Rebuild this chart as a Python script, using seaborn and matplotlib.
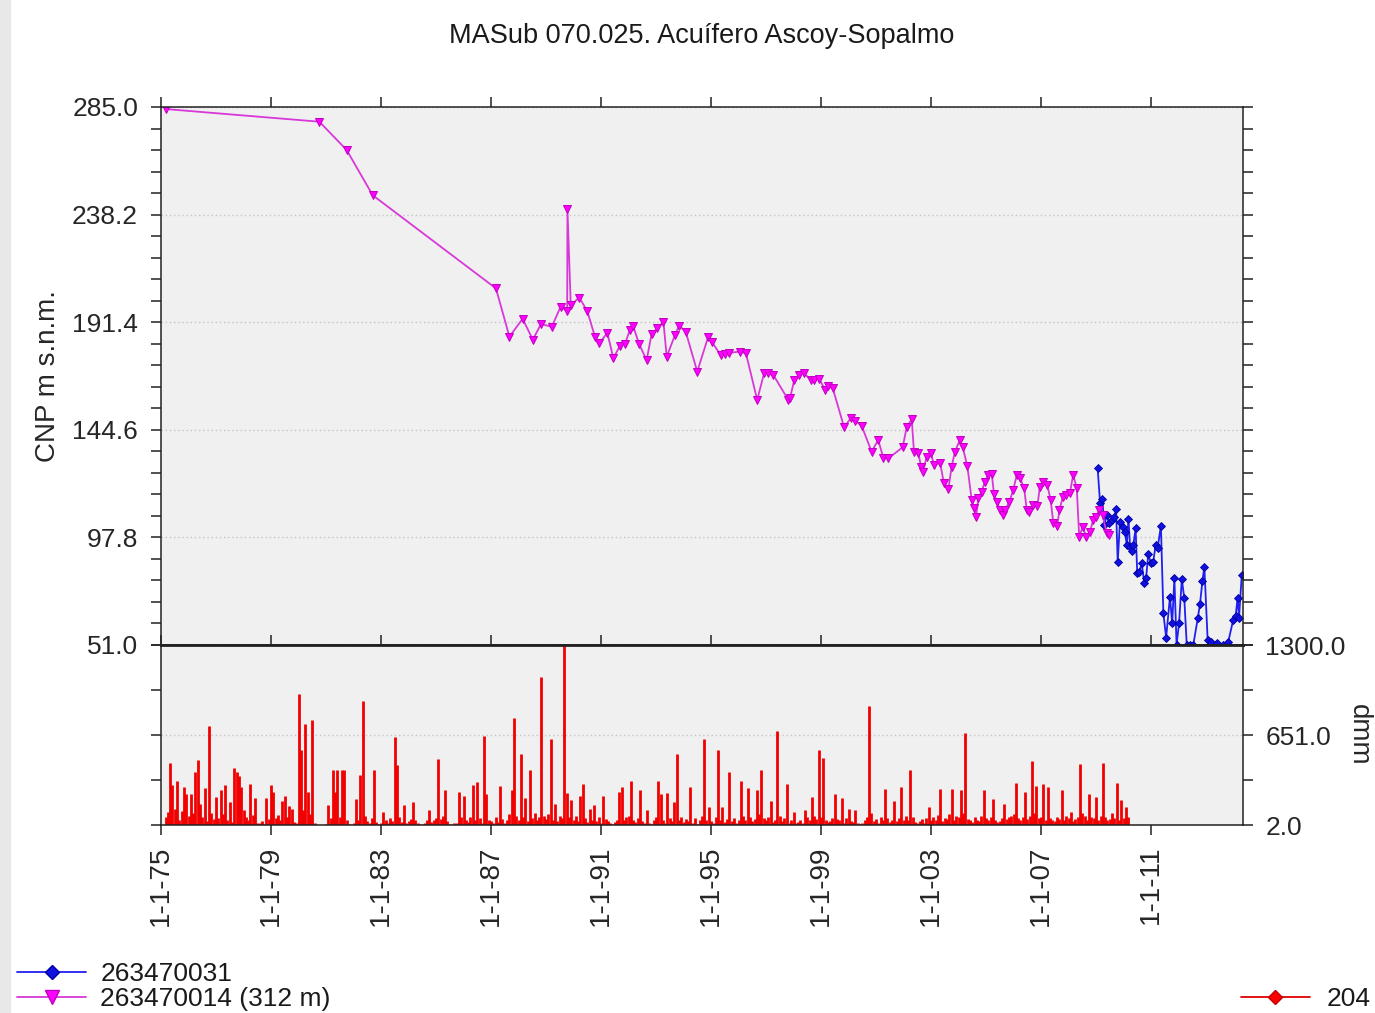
import numpy as np
import pandas as pd
import matplotlib
matplotlib.use("Agg")
import matplotlib.pyplot as plt
from matplotlib.lines import Line2D
from matplotlib.patches import Rectangle
from matplotlib.ticker import AutoMinorLocator
import seaborn as sns

# piezometro 263470014 (312 m): fecha (año decimal) y cota (m s.n.m.)
p14_year = [1975.18, 1980.76, 1981.75, 1982.70, 1987.18, 1987.67, 1988.15, 1988.52, 1988.82, 1989.21,
            1989.53, 1989.77, 1989.78, 1989.90, 1990.21, 1990.50, 1990.78, 1990.94, 1991.23, 1991.45,
            1991.69, 1991.87, 1992.05, 1992.17, 1992.39, 1992.66, 1992.84, 1993.05, 1993.27, 1993.39,
            1993.69, 1993.84, 1994.08, 1994.50, 1994.90, 1995.03, 1995.35, 1995.51, 1995.67, 1996.05,
            1996.27, 1996.68, 1996.93, 1997.08, 1997.27, 1997.81, 1997.87, 1998.03, 1998.20, 1998.38,
            1998.63, 1998.75, 1998.94, 1999.15, 1999.27, 1999.43, 1999.84, 2000.08, 2000.24, 2000.48,
            2000.84, 2001.08, 2001.27, 2001.45, 2001.97, 2002.12, 2002.30, 2002.38, 2002.54, 2002.64,
            2002.72, 2002.84, 2002.99, 2003.11, 2003.33, 2003.47, 2003.63, 2003.75, 2003.87, 2004.05,
            2004.15, 2004.32, 2004.48, 2004.56, 2004.64, 2004.72, 2004.84, 2004.96, 2005.08, 2005.21,
            2005.29, 2005.39, 2005.51, 2005.61, 2005.69, 2005.85, 2005.99, 2006.12, 2006.24, 2006.39,
            2006.48, 2006.58, 2006.72, 2006.87, 2006.96, 2007.08, 2007.23, 2007.35, 2007.45, 2007.59,
            2007.67, 2007.79, 2007.91, 2008.05, 2008.17, 2008.30, 2008.39, 2008.52, 2008.64, 2008.78,
            2008.90, 2009.00, 2009.12, 2009.24, 2009.39, 2009.48]
p14_level = [284.1, 278.6, 266.3, 246.6, 206.1, 185.1, 192.9, 183.8, 190.6, 189.4,
             198.1, 196.3, 240.6, 198.9, 202.1, 196.3, 185.1, 182.2, 186.8, 175.7,
             181.2, 181.9, 188.0, 189.7, 181.8, 174.9, 186.3, 188.7, 191.6, 176.4,
             185.8, 189.9, 187.3, 169.9, 185.1, 182.9, 177.1, 177.6, 178.1, 178.6,
             177.9, 157.6, 169.2, 169.2, 168.4, 157.6, 158.3, 166.3, 168.4, 169.2,
             166.3, 166.3, 166.7, 161.9, 163.6, 162.6, 145.7, 149.6, 148.6, 146.3,
             135.1, 140.2, 132.2, 132.2, 137.0, 146.0, 149.2, 135.1, 134.4, 128.5,
             126.4, 132.9, 134.6, 129.3, 130.3, 121.3, 118.7, 128.5, 135.1, 140.2,
             137.2, 128.9, 114.1, 110.5, 106.8, 114.8, 117.7, 122.0, 125.0, 125.4,
             116.7, 113.3, 109.7, 107.5, 109.7, 113.3, 118.4, 125.0, 123.5, 119.2,
             109.7, 109.0, 111.9, 111.5, 119.9, 122.0, 120.6, 114.1, 103.9, 102.8,
             109.7, 115.2, 116.2, 117.0, 125.0, 119.2, 98.1, 102.5, 98.1, 100.3,
             105.4, 106.8, 109.7, 107.5, 99.6, 98.8]

# piezometro 263470031
p31_year = [2009.06, 2009.15, 2009.23, 2009.30, 2009.39, 2009.47, 2009.57, 2009.67, 2009.73, 2009.79,
            2009.87, 2009.97, 2010.05, 2010.12, 2010.18, 2010.24, 2010.30, 2010.36, 2010.44, 2010.50,
            2010.57, 2010.66, 2010.76, 2010.82, 2010.90, 2011.00, 2011.08, 2011.17, 2011.24, 2011.36,
            2011.45, 2011.55, 2011.69, 2011.77, 2011.85, 2011.93, 2012.02, 2012.12, 2012.21, 2012.30,
            2012.42, 2012.54, 2012.70, 2012.78, 2012.87, 2012.94, 2013.06, 2013.18, 2013.39, 2013.63,
            2013.81, 2013.99, 2014.08, 2014.15, 2014.20, 2014.30]
p31_level = [127.8, 112.6, 114.5, 103.2, 107.5, 103.9, 105.4, 106.8, 110.1, 86.9,
             104.6, 102.5, 100.3, 94.5, 105.8, 93.7, 91.9, 94.5, 101.8, 82.2,
             82.6, 86.5, 77.8, 80.0, 90.4, 86.5, 87.2, 94.5, 93.0, 102.9,
             64.8, 54.2, 72.0, 60.4, 80.0, 51.2, 60.4, 79.7, 71.3, 51.2,
             51.2, 51.2, 62.6, 68.7, 78.8, 85.1, 53.2, 52.4, 51.7, 51.2,
             52.4, 62.0, 63.8, 71.6, 62.6, 81.4]

# estacion 204: precipitacion mensual (dmm) desde enero de 1975
rain_start = 1975
rain_dmm = [
    0, 0, 60, 95, 449, 288, 120, 319, 40, 100, 276, 224,        # 1975
    70, 224, 85, 384, 469, 150, 60, 272, 30, 716, 90, 45,       # 1976
    204, 55, 252, 80, 288, 40, 168, 25, 416, 384, 353, 276,     # 1977
    110, 60, 35, 300, 75, 199, 20, 15, 30, 10, 199, 45,         # 1978
    288, 237, 50, 72, 35, 175, 209, 60, 137, 118, 25, 15,       # 1979
    950, 541, 110, 733, 237, 80, 757, 20, 0, 0, 0, 5,           # 1980
    10, 144, 55, 397, 237, 397, 60, 397, 397, 35, 10, 5,        # 1981
    15, 187, 40, 360, 896, 70, 30, 20, 55, 397, 25, 10,         # 1982
    20, 96, 35, 15, 50, 30, 637, 432, 60, 25, 144, 20,          # 1983
    30, 45, 168, 40, 15, 5, 10, 20, 35, 113, 25, 40,            # 1984
    55, 476, 45, 70, 252, 30, 10, 5, 15, 20, 237, 60,           # 1985
    209, 40, 25, 60, 288, 35, 312, 50, 20, 644, 228, 40,        # 1986
    30, 15, 60, 25, 281, 45, 20, 35, 80, 257, 776, 70,          # 1987
    40, 517, 60, 199, 30, 402, 55, 90, 40, 60, 1069, 70,        # 1988
    45, 80, 625, 40, 156, 30, 70, 50, 1300, 230, 60, 180,       # 1989
    40, 70, 30, 209, 300, 55, 25, 118, 40, 144, 30, 60,         # 1990
    20, 209, 45, 30, 15, 10, 25, 40, 237, 276, 35, 60,          # 1991
    70, 319, 40, 25, 55, 252, 30, 15, 108, 20, 10, 40,          # 1992
    60, 320, 224, 35, 20, 233, 50, 30, 168, 517, 40, 60,        # 1993
    25, 45, 30, 276, 20, 55, 10, 40, 70, 625, 35, 132,          # 1994
    30, 20, 60, 541, 35, 132, 25, 45, 384, 30, 55, 20,          # 1995
    40, 320, 70, 35, 272, 60, 30, 45, 252, 80, 397, 50,         # 1996
    35, 60, 175, 25, 40, 680, 70, 30, 55, 300, 20, 35,          # 1997
    96, 15, 25, 40, 20, 108, 60, 35, 204, 70, 45, 546,          # 1998
    60, 485, 40, 25, 30, 55, 224, 45, 35, 199, 20, 50,          # 1999
    120, 30, 25, 108, 15, 10, 20, 40, 60, 860, 90, 30,          # 2000
    45, 20, 60, 35, 264, 50, 25, 40, 175, 30, 55, 276,          # 2001
    40, 70, 35, 397, 60, 25, 15, 30, 45, 20, 55, 132,           # 2002
    35, 60, 40, 75, 264, 30, 55, 45, 80, 264, 40, 70,           # 2003
    60, 252, 90, 666, 45, 35, 25, 60, 40, 30, 70, 252,          # 2004
    50, 35, 60, 190, 40, 25, 30, 55, 156, 45, 60, 70,           # 2005
    80, 305, 55, 40, 60, 240, 45, 70, 461, 90, 281, 50,         # 2006
    60, 295, 40, 276, 55, 35, 30, 60, 45, 252, 40, 70,          # 2007
    55, 96, 30, 45, 60, 445, 90, 70, 40, 228, 60, 50,           # 2008
    204, 40, 70, 450, 60, 35, 45, 90, 55, 305, 40, 180,         # 2009
    50, 132, 60,                                                # 2010
]

x_ticks = [1975, 1979, 1983, 1987, 1991, 1995, 1999, 2003, 2007, 2011]
x_labels = ["1-1-75", "1-1-79", "1-1-83", "1-1-87", "1-1-91",
            "1-1-95", "1-1-99", "1-1-03", "1-1-07", "1-1-11"]
level_ticks = [51.0, 97.8, 144.6, 191.4, 238.2, 285.0]
rain_ticks = [2.0, 651.0, 1300.0]

sns.set_style("ticks")
plt.rcParams['font.family'] = ['Liberation Sans', 'DejaVu Sans']
plt.rcParams['text.color'] = '#1a1a1a'

W, H = 1375, 1013
fig = plt.figure(figsize=(W / 100, H / 100), dpi=100)
fig.patch.set_facecolor('white')
fig.add_artist(Rectangle((0, 0), 10 / W, 1, transform=fig.transFigure,
                         color='#e8e8e8', zorder=0))

ax = fig.add_axes([161 / W, 1 - 645 / H, 1082 / W, 538 / H])
axr = fig.add_axes([161 / W, 1 - 825 / H, 1082 / W, 180 / H])
xmax = 1975 + (1243 - 161) / 27.5

# --- niveles piezometricos ---
ax.set_facecolor('#f0f0f0')
df31 = pd.DataFrame({'year': p31_year, 'level': p31_level})
df14 = pd.DataFrame({'year': p14_year, 'level': p14_level})
sns.lineplot(data=df31, x='year', y='level', ax=ax, estimator=None, sort=False,
             color='#2020f0', lw=1.3, marker='D', markersize=3.8,
             markerfacecolor='#1010e0', markeredgecolor='#0000a0', markeredgewidth=0.6)
sns.lineplot(data=df14, x='year', y='level', ax=ax, estimator=None, sort=False,
             color='#d838d8', lw=1.3, marker='v', markersize=5.4,
             markerfacecolor='#ff00ff', markeredgecolor='#c000c0', markeredgewidth=0.7)

ax.set_xlim(1975, xmax)
ax.set_ylim(51.0, 285.0)
ax.set_yticks(level_ticks)
ax.set_yticklabels([f"{v:.1f}" for v in level_ticks], fontsize=19)
ax.yaxis.set_minor_locator(AutoMinorLocator(5))
ax.tick_params(axis='y', which='both', left=True, right=True, direction='out',
               length=7, width=1.1, color='#222222', pad=9.5)
ax.set_xticks(x_ticks)
ax.tick_params(axis='x', which='both', top=True, bottom=False, labelbottom=False,
               labeltop=False, direction='out', length=7, width=1.1, color='#222222')
ax.grid(axis='y', which='major', ls=(0, (1, 2)), color='#c4c4c4', lw=1)
ax.grid(axis='x', visible=False)
ax.set_xlabel('')
ax.set_ylabel('CNP m s.n.m.', fontsize=20, labelpad=8)
for s in ax.spines.values():
    s.set_color('#222222')
    s.set_linewidth(1.1)
ax.spines['bottom'].set_linewidth(2)

# --- precipitacion ---
axr.set_facecolor('#f0f0f0')
rain_x = rain_start + np.arange(len(rain_dmm)) / 12
axr.vlines(rain_x, 2.0, rain_dmm, color='#f00000', lw=2.0)
axr.set_xlim(1975, xmax)
axr.set_ylim(2.0, 1300.0)
axr.set_yticks(rain_ticks)
axr.set_yticklabels([f"{v:.1f}" for v in rain_ticks], fontsize=19)
axr.yaxis.set_minor_locator(AutoMinorLocator(2))
axr.tick_params(axis='y', which='both', left=True, right=True, labelleft=False,
                labelright=True, direction='out', length=7, width=1.1,
                color='#222222', pad=9)
axr.yaxis.set_label_position('right')
axr.set_ylabel('dmm', fontsize=20, rotation=270, labelpad=19)
axr.set_xticks(x_ticks)
axr.set_xticklabels(x_labels, rotation=90, fontsize=20)
axr.tick_params(axis='x', top=True, bottom=True, direction='out', length=7,
                width=1.1, color='#222222', pad=8)
axr.grid(axis='y', which='major', ls=(0, (1, 2)), color='#c4c4c4', lw=1)
axr.grid(axis='x', visible=False)
for s in axr.spines.values():
    s.set_color('#222222')
    s.set_linewidth(1.1)
axr.spines['top'].set_linewidth(2)

fig.text(702 / W, 1 - 36 / H, 'MASub 070.025. Acuífero Ascoy-Sopalmo',
         ha='center', va='center', fontsize=19.5)

# --- leyendas ---
h31 = Line2D([], [], color='#2020f0', lw=1.3, marker='D', markersize=7,
             markerfacecolor='#1010e0', markeredgecolor='#0000a0')
h14 = Line2D([], [], color='#d838d8', lw=1.3, marker='v', markersize=10,
             markerfacecolor='#ff00ff', markeredgecolor='#c000c0')
h204 = Line2D([], [], color='#e00000', lw=1.3, marker='D', markersize=7,
              markerfacecolor='#ff0000', markeredgecolor='#c00000')
fig.legend(handles=[h31, h14], labels=['263470031', '263470014 (312 m)'],
           loc='lower left', bbox_to_anchor=(0.001, -0.014), frameon=False,
           fontsize=19, handlelength=2.6, handletextpad=0.55, labelspacing=0.05,
           borderaxespad=0.2)
fig.legend(handles=[h204], labels=['204'], loc='lower right',
           bbox_to_anchor=(1.0085, -0.014), frameon=False, fontsize=19,
           handlelength=2.6, handletextpad=0.65, borderaxespad=0.2)

fig.savefig('out.png', dpi=100)
